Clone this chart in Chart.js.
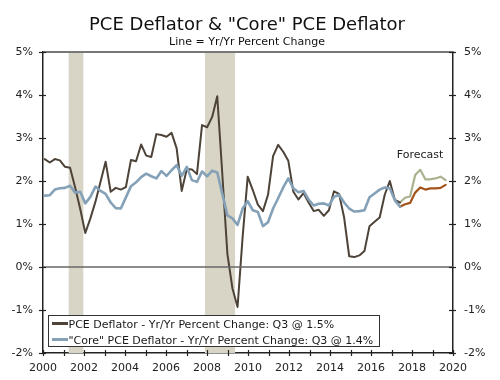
<!DOCTYPE html>
<html><head><meta charset="utf-8">
<script src="https://cdn.jsdelivr.net/npm/chart.js@4.4.0/dist/chart.umd.min.js"></script>
<style>html,body{margin:0;padding:0;background:#fff;} canvas{display:block;}</style>
</head><body>
<canvas id="c" width="500" height="380"></canvas>
<script>
const titleText = 'PCE Deflator & "Core" PCE Deflator';
const subtitleText = 'Line = Yr/Yr Percent Change';
const legendLabels = ['PCE Deflator - Yr/Yr Percent Change: Q3 @ 1.5%', '"Core" PCE Deflator - Yr/Yr Percent Change: Q3 @ 1.4%'];
const forecastLabel = 'Forecast';

// Quarterly categories: actual 2000Q1..2017Q3, forecast 2017Q3..2019Q4
const actualQuarters = [];
for (let y = 2000; y <= 2017; y++) for (let q = 1; q <= 4; q++) { if (y === 2017 && q > 3) break; actualQuarters.push(y + 'Q' + q); }
const forecastQuarters = ['2017Q3','2017Q4','2018Q1','2018Q2','2018Q3','2018Q4','2019Q1','2019Q2','2019Q3','2019Q4'];

const pceDeflator = [
  2.51, 2.43, 2.51, 2.48, 2.33, 2.31, 1.85, 1.35, 0.79, 1.13,
  1.52, 1.98, 2.45, 1.75, 1.84, 1.80, 1.86, 2.49, 2.46, 2.85,
  2.59, 2.56, 3.09, 3.07, 3.03, 3.12, 2.76, 1.77, 2.28, 2.27,
  2.16, 3.30, 3.25, 3.49, 3.97, 2.15, 0.30, -0.50, -0.93, 0.70,
  2.10, 1.79, 1.45, 1.30, 1.68, 2.58, 2.84, 2.68, 2.47, 1.75,
  1.57, 1.72, 1.50, 1.30, 1.33, 1.19, 1.32, 1.76, 1.70, 1.15,
  0.25, 0.23, 0.27, 0.37, 0.95, 1.05, 1.15, 1.68, 2.00, 1.56,
  1.50
];
const corePce = [
  1.66, 1.67, 1.80, 1.83, 1.84, 1.89, 1.73, 1.75, 1.48, 1.63,
  1.87, 1.77, 1.70, 1.50, 1.37, 1.36, 1.62, 1.88, 1.97, 2.09,
  2.17, 2.11, 2.06, 2.23, 2.12, 2.25, 2.37, 2.12, 2.33, 2.02,
  1.98, 2.22, 2.11, 2.24, 2.20, 1.70, 1.20, 1.13, 0.98, 1.36,
  1.53, 1.32, 1.28, 0.95, 1.04, 1.36, 1.60, 1.85, 2.06, 1.83,
  1.74, 1.77, 1.57, 1.43, 1.47, 1.48, 1.43, 1.63, 1.68, 1.50,
  1.36, 1.29, 1.30, 1.32, 1.62, 1.71, 1.80, 1.85, 1.83, 1.55,
  1.40
];
const pceForecast  = [1.50, 1.61, 1.64, 2.14, 2.26, 2.04, 2.04, 2.06, 2.10, 2.02];
const coreForecast = [1.40, 1.46, 1.49, 1.73, 1.85, 1.80, 1.83, 1.83, 1.84, 1.91];

const recessions = [[2001.25, 2001.97], [2007.9, 2009.37]];
const yTicks = [-2, -1, 0, 1, 2, 3, 4, 5];
const xYears = [];
for (let y = 2000; y <= 2020; y++) xYears.push(y);

function qx(label) { const [y, q] = label.split('Q'); return +y + (+q - 1) / 4; }
function pts(labels, vals) { return labels.map((l, i) => ({ x: qx(l), y: vals[i] })); }

const FONT = '"DejaVu Sans", Verdana, sans-serif';
const C_PCE = '#4d4339', C_CORE = '#84a1b7', C_PCE_F = '#a9b28e', C_CORE_F = '#a4531b';

const decor = {
  id: 'decor',
  beforeDatasetsDraw(chart) {
    const { ctx, chartArea: a } = chart;
    const xs = chart.scales.x2;
    ctx.save();
    ctx.fillStyle = '#d8d5c6';
    recessions.forEach(([s, e]) => {
      const x1 = xs.getPixelForValue(s), x2 = xs.getPixelForValue(e);
      ctx.fillRect(x1, a.top, x2 - x1, a.bottom - a.top);
    });
    ctx.restore();
  },
  afterDatasetsDraw(chart) {
    const { ctx, chartArea: a } = chart;
    const y = chart.scales.y, xs = chart.scales.x2;
    ctx.save();
    ctx.strokeStyle = '#777';
    ctx.lineWidth = 2;
    ctx.beginPath(); ctx.moveTo(a.left, y.getPixelForValue(5)); ctx.lineTo(a.right, y.getPixelForValue(5)); ctx.stroke();
    ctx.lineWidth = 1.5;
    ctx.strokeStyle = '#666';
    ctx.beginPath(); ctx.moveTo(a.left, y.getPixelForValue(0)); ctx.lineTo(a.right, y.getPixelForValue(0)); ctx.stroke();
    ctx.strokeStyle = '#222';
    ctx.lineWidth = 1.2;
    yTicks.forEach(v => {
      const py = Math.round(y.getPixelForValue(v)) + 0.5;
      ctx.beginPath(); ctx.moveTo(a.left - 4, py); ctx.lineTo(a.left + 3, py); ctx.stroke();
      ctx.beginPath(); ctx.moveTo(a.right - 4, py); ctx.lineTo(a.right + 3, py); ctx.stroke();
    });
    xYears.forEach(v => {
      const px = Math.round(xs.getPixelForValue(v)) + 0.5;
      ctx.beginPath(); ctx.moveTo(px, a.bottom - 3); ctx.lineTo(px, a.bottom + 3); ctx.stroke();
    });
    ctx.restore();
  },
  afterDraw(chart) {
    const { ctx } = chart;
    ctx.save();
    ctx.fillStyle = '#111';
    ctx.textAlign = 'center';
    ctx.textBaseline = 'alphabetic';
    ctx.font = '18px ' + FONT;
    ctx.fillText(titleText, 247, 29.5);
    ctx.font = '11px ' + FONT;
    ctx.fillText(subtitleText, 247, 45);
    ctx.fillStyle = '#222';
    ctx.fillText(forecastLabel, 420, 158);
    ctx.fillStyle = '#fff';
    ctx.fillRect(48.5, 315.5, 331, 31);
    ctx.strokeStyle = '#333';
    ctx.lineWidth = 1;
    ctx.strokeRect(48.5, 315.5, 331, 31);
    const rows = [[C_PCE, 323.5], [C_CORE, 339.5]];
    ctx.textAlign = 'left';
    ctx.font = '11px ' + FONT;
    rows.forEach(([col, yy], i) => {
      ctx.strokeStyle = col;
      ctx.lineWidth = 3;
      ctx.beginPath(); ctx.moveTo(52, yy); ctx.lineTo(68, yy); ctx.stroke();
      ctx.fillStyle = '#1a1a1a';
      ctx.fillText(legendLabels[i], 68.5, yy + 4);
    });
    ctx.restore();
  }
};

new Chart(document.getElementById('c'), {
  type: 'line',
  data: {
    datasets: [
      { label: 'core', data: pts(actualQuarters, corePce), borderColor: C_CORE, borderWidth: 2.6, order: 1 },
      { label: 'pce', data: pts(actualQuarters, pceDeflator), borderColor: C_PCE, borderWidth: 2, order: 2 },
      { label: 'pceF', data: pts(forecastQuarters, pceForecast), borderColor: C_PCE_F, borderWidth: 2.2, order: 3 },
      { label: 'coreF', data: pts(forecastQuarters, coreForecast), borderColor: C_CORE_F, borderWidth: 2.2, order: 3 }
    ]
  },
  options: {
    responsive: false,
    animation: false,
    layout: { padding: { top: 52, left: 0, right: 0, bottom: 0 } },
    elements: { point: { radius: 0 }, line: { tension: 0, borderCapStyle: 'round', borderJoinStyle: 'round' } },
    plugins: { legend: { display: false }, tooltip: { enabled: false }, title: { display: false } },
    scales: {
      x: { type: 'linear', display: false, min: 1999.916, max: 2020.113 },
      x2: {
        type: 'linear', position: 'bottom', min: 2000, max: 2020,
        afterBuildTicks: s => { s.ticks = xYears.map(v => ({ value: v })); },
        afterFit: s => { s.height = 27; },
        ticks: { autoSkip: false, maxRotation: 0, padding: 9, color: '#222', font: { family: FONT, size: 11 },
          callback: v => (v % 2 === 0 ? String(v) : '') },
        grid: { display: true, drawOnChartArea: false, drawTicks: false },
        border: { display: true, color: '#222', width: 1.5 }
      },
      y: {
        type: 'linear', position: 'left', min: -2, max: 5,
        afterBuildTicks: s => { s.ticks = yTicks.map(v => ({ value: v })); },
        afterFit: s => { s.width = 43; },
        ticks: { padding: 10, color: '#222', font: { family: FONT, size: 11 }, callback: v => v + '%' },
        grid: { display: true, drawOnChartArea: false, drawTicks: false },
        border: { display: true, color: '#222', width: 1.5 }
      },
      y2: {
        type: 'linear', position: 'right', min: -2, max: 5,
        afterBuildTicks: s => { s.ticks = yTicks.map(v => ({ value: v })); },
        afterFit: s => { s.width = 47; },
        ticks: { padding: 11, color: '#222', font: { family: FONT, size: 11 }, callback: v => v + '%' },
        grid: { display: true, drawOnChartArea: false, drawTicks: false },
        border: { display: true, color: '#222', width: 1.5 }
      }
    }
  },
  plugins: [decor]
});
</script>
</body></html>
